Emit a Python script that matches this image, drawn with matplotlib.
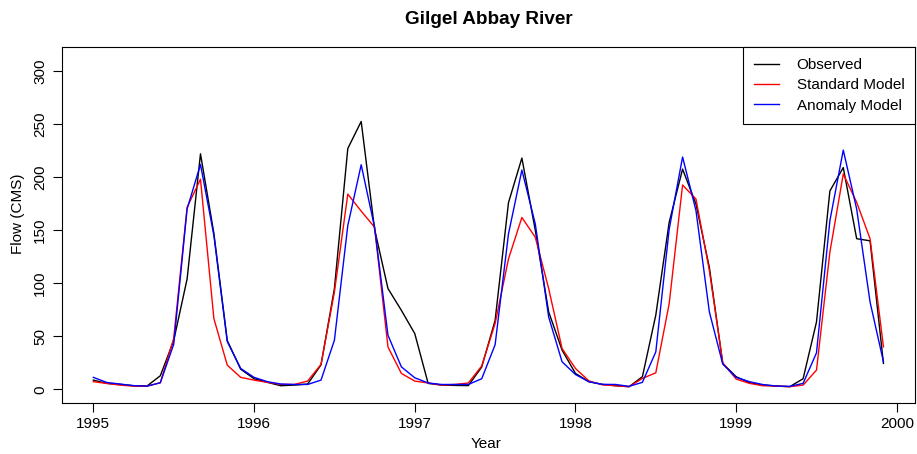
import numpy as np
import matplotlib
matplotlib.use("Agg")
import matplotlib.pyplot as plt

# Monthly flow series, Jan 1995 - Dec 1999 (CMS)
start_year = 1995
n_months = 60

observed = [8.7, 5.6, 4.7, 3.4, 3.1, 12.8, 46, 104, 222, 147, 46, 19,
            10, 6.6, 3.4, 4, 5, 23, 95, 227, 252.5, 151, 95, 74.5,
            52.6, 5.6, 4, 3.7, 3.5, 21, 65, 176, 218, 150, 73, 37,
            15, 7.2, 4.7, 3.4, 2.5, 11.9, 70, 157.5, 207.6, 174.7, 115, 24.4,
            11.9, 6.2, 4.1, 3.1, 2.5, 10, 63.5, 187, 209, 142, 140, 24.4]

standard = [7.2, 5.6, 4, 3, 3, 6.2, 48, 171.6, 198, 66.7, 22.8, 11.3,
            8.7, 6.6, 4.7, 4.6, 7.8, 23.5, 91.7, 184, 168, 152.8, 40, 15,
            7.8, 6, 4, 4.6, 6, 22, 62, 123, 162, 143.4, 95, 38.5,
            19.7, 8, 4.3, 3.4, 2.5, 10.3, 15.6, 80.8, 192.6, 179.4, 112, 25,
            9.7, 5.6, 3.4, 3.1, 2.5, 4, 18.1, 129.3, 203, 176.3, 142, 40]

anomaly = [11.3, 6.5, 5, 3.5, 3, 6.2, 42.5, 170, 212, 145, 45, 19.7,
           11.3, 7.2, 5, 4.6, 4.6, 8.7, 46.3, 154.4, 211.7, 152.8, 51, 21.2,
           10.9, 6, 4.6, 4.6, 4.6, 10, 42, 146.6, 206.7, 156, 68.2, 26,
           14, 7.2, 4.7, 4.6, 2.8, 6.6, 35.3, 151, 219, 168.5, 73, 23.8,
           11.3, 7.2, 4.5, 3.1, 2.8, 5.6, 34.4, 159, 225.5, 170, 82.3, 26]

series_labels = ["Observed", "Standard Model", "Anomaly Model"]
series_colors = ["black", "red", "blue"]
x_ticks = [1995, 1996, 1997, 1998, 1999, 2000]
y_ticks = [0, 50, 100, 150, 200, 250, 300]

time = start_year + np.arange(n_months) / 12.0

plt.rcParams["font.family"] = ["Liberation Sans", "DejaVu Sans"]

W, H = 917, 454
fig = plt.figure(figsize=(W / 100, H / 100), dpi=100)
left, right, top, bottom = 61.7, 915.0, 47.3, 402.5
ax = fig.add_axes([left / W, 1 - bottom / H, (right - left) / W, (bottom - top) / H])

for vals, lab, col in zip([observed, standard, anomaly], series_labels, series_colors):
    ax.plot(time, vals, color=col, lw=1.0, label=lab)

ax.set_xlim(1994.803, 2000.113)
ax.set_ylim(-12.4, 322.4)
ax.set_xticks(x_ticks)
ax.set_yticks(y_ticks)
ax.set_xticklabels([str(t) for t in x_ticks])
ax.set_yticklabels([str(t) for t in y_ticks], rotation=90, va="center")

for sp in ax.spines.values():
    sp.set_linewidth(0.8)
ax.tick_params(axis="both", direction="out", length=6.3, width=0.8, labelsize=11)
ax.tick_params(axis="x", pad=4.0)
ax.tick_params(axis="y", pad=4.2)

leg = ax.legend(loc="upper right", borderaxespad=0, fancybox=False, fontsize=11,
                edgecolor="black", framealpha=1, handlelength=1.64,
                handletextpad=1.15, borderpad=0.7, labelspacing=0.42)
leg.get_frame().set_linewidth(0.8)

fig.text(489 / W, 1 - 20 / H, "Gilgel Abbay River", ha="center", va="center",
         fontsize=13.6, fontweight="bold")
fig.text(486 / W, 1 - 444 / H, "Year", ha="center", va="center", fontsize=11)
fig.text(18 / W, 1 - 214 / H, "Flow (CMS)", ha="center", va="center",
         rotation=90, fontsize=11)

fig.savefig("out.png", dpi=100)
